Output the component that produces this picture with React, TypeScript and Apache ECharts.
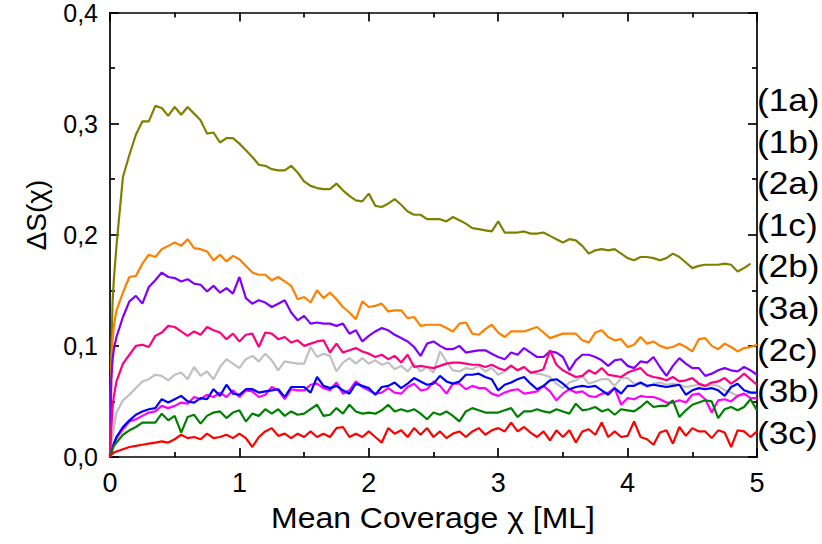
import React, { useEffect, useRef } from "react";
import * as echarts from "echarts";

// Mean coverage grid (ML)
const coverage = [
  0, 0.01, 0.02, 0.03,
  0.05, 0.1, 0.15, 0.2, 0.25, 0.3, 0.35, 0.4, 0.45, 0.5,
  0.55, 0.6, 0.65, 0.7, 0.75, 0.8, 0.85, 0.9, 0.95, 1.0,
  1.05, 1.1, 1.15, 1.2, 1.25, 1.3, 1.35, 1.4, 1.45, 1.5,
  1.55, 1.6, 1.65, 1.7, 1.75, 1.8, 1.85, 1.9, 1.95, 2.0,
  2.05, 2.1, 2.15, 2.2, 2.25, 2.3, 2.35, 2.4, 2.45, 2.5,
  2.55, 2.6, 2.65, 2.7, 2.75, 2.8, 2.85, 2.9, 2.95, 3.0,
  3.05, 3.1, 3.15, 3.2, 3.25, 3.3, 3.35, 3.4, 3.45, 3.5,
  3.55, 3.6, 3.65, 3.7, 3.75, 3.8, 3.85, 3.9, 3.95, 4.0,
  4.05, 4.1, 4.15, 4.2, 4.25, 4.3, 4.35, 4.4, 4.45, 4.5,
  4.55, 4.6, 4.65, 4.7, 4.75, 4.8, 4.85, 4.9, 4.95, 5.0,
];

const olive = [
  0, 0.09, 0.14, 0.16,
  0.19, 0.252, 0.272, 0.29, 0.302, 0.302, 0.316, 0.314, 0.307, 0.315,
  0.308, 0.315, 0.309, 0.303, 0.291, 0.292, 0.283, 0.287, 0.287, 0.282,
  0.276, 0.27, 0.263, 0.262, 0.259, 0.258, 0.258, 0.262, 0.256, 0.248,
  0.244, 0.242, 0.241, 0.241, 0.246, 0.24, 0.235, 0.231, 0.23, 0.237,
  0.226, 0.225, 0.228, 0.232, 0.227, 0.221, 0.218, 0.218, 0.214, 0.214,
  0.214, 0.212, 0.216, 0.213, 0.21, 0.206, 0.205, 0.204, 0.203, 0.212,
  0.202, 0.202, 0.202, 0.203, 0.201, 0.201, 0.202, 0.199, 0.196, 0.193,
  0.196, 0.195, 0.19, 0.183, 0.186, 0.187, 0.186, 0.187, 0.183, 0.179,
  0.177, 0.18, 0.18, 0.179, 0.177, 0.179, 0.183, 0.18, 0.175, 0.17,
  0.172, 0.173, 0.173, 0.173, 0.174, 0.173, 0.167, 0.17, 0.174, null,
];

const orange = [
  0, 0.08, 0.105, 0.118,
  0.132, 0.148, 0.162, 0.163, 0.174, 0.182, 0.18, 0.187, 0.19, 0.193,
  0.19, 0.196, 0.188, 0.187, 0.185, 0.177, 0.182, 0.176, 0.181, 0.178,
  0.172, 0.166, 0.164, 0.164, 0.159, 0.162, 0.158, 0.154, 0.142, 0.144,
  0.139, 0.15, 0.143, 0.148, 0.142, 0.135, 0.13, 0.124, 0.14, 0.135,
  0.136, 0.138, 0.131, 0.132, 0.132, 0.125, 0.126, 0.118, 0.119, 0.119,
  0.119, 0.116, 0.113, 0.12, 0.121, 0.111, 0.11, 0.115, 0.119, 0.112,
  0.108, 0.113, 0.113, 0.113, 0.115, 0.117, 0.112, 0.107, 0.109, 0.111,
  0.111, 0.111, 0.105, 0.103, 0.112, 0.114, 0.108, 0.105, 0.106, 0.099,
  0.101, 0.108, 0.102, 0.104, 0.1, 0.098, 0.099, 0.102, 0.099, 0.095,
  0.106, 0.107, 0.1, 0.097, 0.102, 0.099, 0.095, 0.098, 0.099, 0.101,
];

const purple = [
  0, 0.07, 0.088, 0.097,
  0.108, 0.126, 0.14, 0.145, 0.138, 0.153, 0.159, 0.166, 0.162, 0.161,
  0.158, 0.16, 0.156, 0.155, 0.149, 0.154, 0.148, 0.152, 0.147, 0.162,
  0.143, 0.138, 0.141, 0.139, 0.135, 0.138, 0.141, 0.13, 0.123, 0.127,
  0.12, 0.121, 0.12, 0.12, 0.118, 0.12, 0.111, 0.114, 0.104, 0.109,
  0.113, 0.116, 0.114, 0.11, 0.107, 0.104, 0.099, 0.091, 0.102, 0.104,
  0.1, 0.097, 0.097, 0.1, 0.094, 0.095, 0.096, 0.096, 0.093, 0.09,
  0.088, 0.094, 0.092, 0.098, 0.094, 0.09, 0.09, 0.095, 0.094, 0.09,
  0.078, 0.087, 0.092, 0.092, 0.09, 0.087, 0.082, 0.087, 0.088, 0.082,
  0.08, 0.086, 0.085, 0.09, 0.081, 0.073, 0.082, 0.089, 0.084, 0.08,
  0.08, 0.073, 0.075, 0.078, 0.08, 0.078, 0.077, 0.081, 0.078, 0.074,
];

const pink = [
  0, 0.025, 0.045, 0.055,
  0.068, 0.084, 0.092, 0.1, 0.101, 0.099, 0.109, 0.112, 0.118, 0.117,
  0.113, 0.109, 0.113, 0.11, 0.117, 0.114, 0.112, 0.106, 0.111, 0.104,
  0.11, 0.111, 0.099, 0.112, 0.111, 0.106, 0.108, 0.103, 0.105, 0.1,
  0.102, 0.104, 0.105, 0.094, 0.102, 0.094, 0.096, 0.098, 0.095, 0.093,
  0.09, 0.092, 0.088, 0.091, 0.085, 0.092, 0.081, 0.082, 0.081, 0.08,
  0.082, 0.084, 0.085, 0.085, 0.084, 0.083, 0.083, 0.081, 0.083, 0.08,
  0.078, 0.082, 0.078, 0.081, 0.076, 0.077, 0.079, 0.096, 0.083, 0.078,
  0.075, 0.072, 0.073, 0.078, 0.075, 0.08, 0.074, 0.073, 0.072, 0.076,
  0.078, 0.08, 0.074, 0.072, 0.071, 0.069, 0.072, 0.068, 0.069, 0.071,
  0.066, 0.064, 0.067, 0.068, 0.071, 0.066, 0.07, 0.075, 0.07, 0.065,
];

const gray = [
  0, 0.012, 0.018, 0.026,
  0.04, 0.051, 0.056, 0.062, 0.068, 0.07, 0.074, 0.073, 0.069, 0.074,
  0.076, 0.07, 0.081, 0.073, 0.077, 0.07, 0.081, 0.088, 0.084, 0.08,
  0.088, 0.091, 0.086, 0.093, 0.087, 0.078, 0.086, 0.085, 0.084, 0.084,
  0.099, 0.09, 0.093, 0.091, 0.077, 0.085, 0.089, 0.084, 0.089, 0.084,
  0.087, 0.083, 0.085, 0.079, 0.082, 0.077, 0.084, 0.077, 0.081, 0.076,
  0.095, 0.086, 0.078, 0.077, 0.08, 0.079, 0.082, 0.077, 0.08, 0.074,
  0.077, 0.083, 0.078, 0.081, 0.076, 0.075, 0.074, 0.072, 0.066, 0.062,
  0.067, 0.069, 0.073, 0.066, 0.068, 0.07, 0.07, 0.064, 0.071, 0.071,
  0.066, 0.066, 0.063, 0.066, 0.067, 0.065, 0.066, 0.065, 0.063, 0.064,
  0.065, 0.063, 0.065, 0.064, 0.06, 0.058, 0.055, 0.056, 0.058, 0.057,
];

const blue = [
  0, 0.004, 0.008, 0.012,
  0.018, 0.027, 0.033, 0.038, 0.041, 0.043, 0.044, 0.052, 0.049, 0.052,
  0.055, 0.05, 0.049, 0.053, 0.052, 0.061, 0.055, 0.065, 0.057, 0.056,
  0.061, 0.061, 0.058, 0.059, 0.06, 0.061, 0.054, 0.063, 0.063, 0.063,
  0.058, 0.072, 0.064, 0.062, 0.064, 0.06, 0.057, 0.066, 0.064, 0.062,
  0.056, 0.063, 0.064, 0.067, 0.062, 0.066, 0.071, 0.068, 0.065, 0.066,
  0.073, 0.068, 0.066, 0.068, 0.074, 0.074, 0.075, 0.072, 0.07, 0.06,
  0.065, 0.067, 0.07, 0.072, 0.066, 0.061, 0.064, 0.069, 0.07, 0.066,
  0.061, 0.063, 0.064, 0.063, 0.064, 0.06, 0.056, 0.062, 0.057, 0.064,
  0.064, 0.067, 0.064, 0.065, 0.064, 0.063, 0.064, 0.065, 0.056, 0.06,
  0.062, 0.061, 0.062, 0.06, 0.055, 0.063, 0.066, 0.06, 0.058, 0.058,
];

const magenta = [
  0, 0.004, 0.008, 0.012,
  0.017, 0.025, 0.032, 0.034, 0.037, 0.04, 0.041, 0.046, 0.044, 0.046,
  0.049, 0.048, 0.054, 0.052, 0.056, 0.054, 0.058, 0.054, 0.06, 0.054,
  0.06, 0.059, 0.054, 0.056, 0.063, 0.06, 0.052, 0.061, 0.06, 0.06,
  0.065, 0.066, 0.062, 0.06, 0.067, 0.057, 0.06, 0.068, 0.063, 0.06,
  0.057, 0.058, 0.062, 0.058, 0.057, 0.063, 0.066, 0.06, 0.061, 0.068,
  0.064, 0.057, 0.066, 0.066, 0.061, 0.064, 0.062, 0.062, 0.057, 0.055,
  0.058, 0.06, 0.061, 0.057, 0.058, 0.059, 0.064, 0.059, 0.051, 0.057,
  0.061, 0.058, 0.059, 0.055, 0.054, 0.057, 0.058, 0.062, 0.047, 0.053,
  0.052, 0.055, 0.054, 0.054, 0.052, 0.049, 0.049, 0.051, 0.049, 0.056,
  0.057, 0.052, 0.04, 0.051, 0.052, 0.05, 0.055, 0.057, 0.053, 0.053,
];

const green = [
  0, 0.004, 0.007, 0.01,
  0.013, 0.02, 0.024, 0.027, 0.031, 0.031, 0.031, 0.039, 0.033, 0.037,
  0.022, 0.036, 0.038, 0.03, 0.037, 0.04, 0.041, 0.035, 0.04, 0.042,
  0.032, 0.039, 0.037, 0.043, 0.039, 0.043, 0.037, 0.041, 0.038, 0.039,
  0.043, 0.047, 0.037, 0.038, 0.044, 0.039, 0.047, 0.041, 0.039, 0.04,
  0.039, 0.042, 0.047, 0.041, 0.043, 0.041, 0.043, 0.039, 0.034, 0.04,
  0.038, 0.041, 0.037, 0.032, 0.041, 0.044, 0.042, 0.04, 0.04, 0.04,
  0.042, 0.044, 0.036, 0.041, 0.041, 0.043, 0.041, 0.04, 0.043, 0.041,
  0.039, 0.048, 0.042, 0.043, 0.045, 0.041, 0.043, 0.038, 0.043, 0.042,
  0.041, 0.045, 0.05, 0.045, 0.046, 0.046, 0.051, 0.036, 0.042, 0.047,
  0.049, 0.051, 0.05, 0.035, 0.043, 0.045, 0.042, 0.045, 0.052, 0.042,
];

const red = [
  0, 0.002, 0.003, 0.004,
  0.005, 0.007, 0.009, 0.01, 0.011, 0.012, 0.013, 0.014, 0.013, 0.016,
  0.02, 0.017, 0.018, 0.016, 0.021, 0.017, 0.018, 0.02, 0.017, 0.021,
  0.017, 0.009, 0.018, 0.023, 0.026, 0.019, 0.021, 0.017, 0.021, 0.018,
  0.023, 0.018, 0.021, 0.018, 0.026, 0.027, 0.018, 0.021, 0.018, 0.023,
  0.018, 0.013, 0.026, 0.021, 0.024, 0.018, 0.026, 0.02, 0.026, 0.018,
  0.023, 0.017, 0.021, 0.023, 0.018, 0.023, 0.026, 0.02, 0.024, 0.026,
  0.023, 0.031, 0.023, 0.027, 0.022, 0.018, 0.023, 0.015, 0.024, 0.018,
  0.024, 0.013, 0.023, 0.025, 0.02, 0.031, 0.018, 0.023, 0.018, 0.019,
  0.032, 0.018, 0.016, 0.011, 0.022, 0.024, 0.012, 0.027, 0.019, 0.026,
  0.023, 0.023, 0.017, 0.024, 0.022, 0.009, 0.024, 0.023, 0.018, 0.023,
];

const curveLabels = ["(1a)", "(1b)", "(2a)", "(1c)", "(2b)", "(3a)", "(2c)", "(3b)", "(3c)"];

const seriesDefs = [
  { name: "olive", values: olive, color: "#808000" },
  { name: "orange", values: orange, color: "#FF8000" },
  { name: "purple", values: purple, color: "#8000FF" },
  { name: "gray", values: gray, color: "#C0C0C0" },
  { name: "pink", values: pink, color: "#FF0080" },
  { name: "magenta", values: magenta, color: "#FF00FF" },
  { name: "blue", values: blue, color: "#0000FF" },
  { name: "green", values: green, color: "#008000" },
  { name: "red", values: red, color: "#FF0000" },
];

const FONT = "'Liberation Sans', Arial, Helvetica, sans-serif";

export default function App() {
  const ref = useRef<HTMLDivElement>(null);

  useEffect(() => {
    if (!ref.current) return;
    const chart = echarts.init(ref.current, null, { renderer: "svg" });

    const axisCommon = {
      axisLine: { show: true, onZero: false, lineStyle: { color: "#000", width: 1.7 } },
      axisTick: { show: true, inside: true, length: 9, lineStyle: { color: "#000", width: 1.7 } },
      minorTick: { show: true, splitNumber: 2, length: 5, lineStyle: { color: "#000", width: 1.7 } },
      splitLine: { show: false },
      minorSplitLine: { show: false },
    };

    const series = seriesDefs.map((s) => ({
      name: s.name,
      type: "line",
      xAxisIndex: 0,
      yAxisIndex: 0,
      showSymbol: false,
      symbol: "none",
      lineStyle: { color: s.color, width: 2.2 },
      itemStyle: { color: s.color },
      data: coverage
        .map((x, i) => [x, s.values[i]])
        .filter((p) => p[1] !== null && p[1] !== undefined),
    }));

    const labelTop = 100;
    const labelStep = 41.6;

    chart.setOption({
      animation: false,
      backgroundColor: "#fff",
      grid: { left: 110, top: 12, right: 65, bottom: 87, containLabel: false },
      xAxis: [
        {
          type: "value",
          position: "bottom",
          min: 0,
          max: 5,
          interval: 1,
          ...axisCommon,
          axisLabel: {
            show: true,
            margin: 12,
            color: "#000",
            fontSize: 27,
            fontFamily: FONT,
          },
        },
        {
          type: "value",
          position: "top",
          min: 0,
          max: 5,
          interval: 1,
          ...axisCommon,
          axisLabel: { show: false },
        },
      ],
      yAxis: [
        {
          type: "value",
          position: "left",
          min: 0,
          max: 0.4,
          interval: 0.1,
          ...axisCommon,
          axisLabel: {
            show: true,
            margin: 12,
            color: "#000",
            fontSize: 25,
            fontFamily: FONT,
            formatter: (v: number) => v.toFixed(1).replace(".", ","),
          },
        },
        {
          type: "value",
          position: "right",
          min: 0,
          max: 0.4,
          interval: 0.1,
          ...axisCommon,
          axisLabel: { show: false },
        },
      ],
      graphic: [
        {
          type: "text",
          x: 433,
          y: 518,
          scaleX: 1.065,
          style: {
            text: "Mean Coverage χ [ML]",
            fill: "#000",
            font: `30px ${FONT}`,
            align: "center",
            verticalAlign: "middle",
          },
        },
        {
          type: "text",
          x: 36,
          y: 215,
          rotation: Math.PI / 2,
          style: {
            text: "ΔS(χ)",
            fill: "#000",
            font: `28px ${FONT}`,
            align: "center",
            verticalAlign: "middle",
          },
        },
        ...curveLabels.map((t, i) => ({
          type: "text",
          x: 757,
          y: labelTop + i * labelStep,
          scaleX: 1.1,
          style: {
            text: t,
            fill: "#000",
            font: `32px ${FONT}`,
            align: "left",
            verticalAlign: "middle",
          },
        })),
      ],
      series,
    });

    return () => chart.dispose();
  }, []);

  return (
    <div
      ref={ref}
      style={{ position: "fixed", left: 0, top: 0, width: 822, height: 544, background: "#fff" }}
    />
  );
}
